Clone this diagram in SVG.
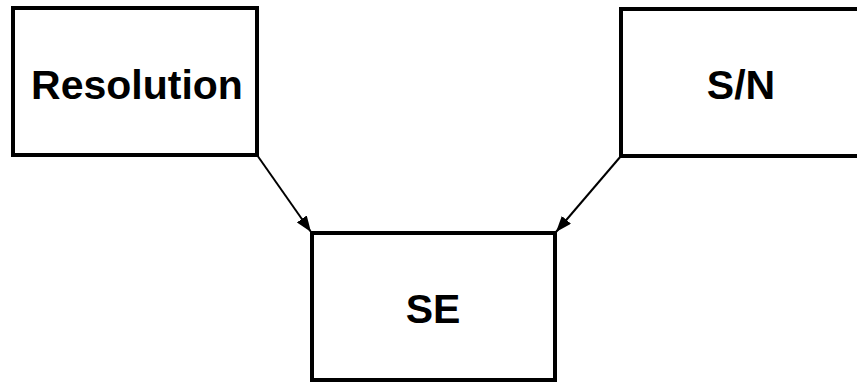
<svg xmlns="http://www.w3.org/2000/svg" width="857" height="383" viewBox="0 0 857 383">
  <style>
    .box { fill: #fff; stroke: #000; stroke-width: 4; }
    .label { font-family: "Liberation Sans", Arial, sans-serif; font-weight: bold; font-size: 41px; fill: #000; text-anchor: middle; }
    .edge { stroke: #000; stroke-width: 2; fill: none; }
  </style>
  <defs>
    <marker id="arrow" viewBox="0 0 16 12" refX="16" refY="6" markerWidth="16" markerHeight="12" markerUnits="userSpaceOnUse" orient="auto">
      <path d="M0,0 L16,6 L0,12 z" fill="#000"/>
    </marker>
  </defs>
  <rect width="857" height="383" fill="#fff"/>
  <g id="resolution">
    <rect class="box" x="13" y="8" width="244" height="147"/>
    <text class="label" x="137" y="99">Resolution</text>
  </g>
  <g id="sn">
    <rect class="box" x="621" y="9" width="242" height="147"/>
    <text class="label" x="741" y="99">S/N</text>
  </g>
  <g id="se">
    <rect class="box" x="312" y="233" width="243" height="147"/>
    <text class="label" x="433" y="323">SE</text>
  </g>
  <g id="connectors">
    <path class="edge" d="M257,155 L311,232" marker-end="url(#arrow)"/>
    <path class="edge" d="M621,156 L556,232" marker-end="url(#arrow)"/>
  </g>
</svg>
